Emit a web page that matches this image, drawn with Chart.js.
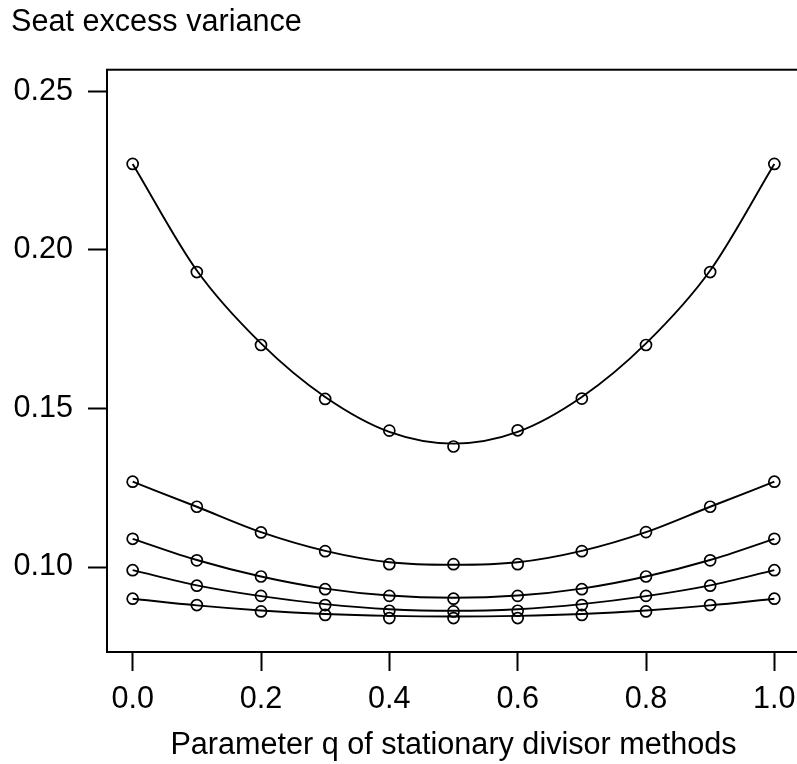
<!DOCTYPE html>
<html>
<head>
<meta charset="utf-8">
<script src="https://cdn.jsdelivr.net/npm/chart.js@4/dist/chart.umd.min.js"></script>
<style>
  html, body { margin: 0; padding: 0; background: #fff; overflow: hidden; }
  #wrap { width: 801px; height: 764px; position: relative; }
</style>
</head>
<body>
<div id="wrap"><canvas id="c" width="801" height="764"></canvas></div>
<script>
// ---- data ----
const qValues = [0.0, 0.1, 0.2, 0.3, 0.4, 0.5, 0.6, 0.7, 0.8, 0.9, 1.0];

// smooth (theoretical) curves
const curveA = [0.2271, 0.1935, 0.1705, 0.1536, 0.1426, 0.1389, 0.1426, 0.1536, 0.1705, 0.1935, 0.2271];
const curveB = [0.1269, 0.1190, 0.1110, 0.1051, 0.1015, 0.1007, 0.1015, 0.1051, 0.1110, 0.1190, 0.1269];
const curveC = [0.1089, 0.1022, 0.0970, 0.0932, 0.0910, 0.0903, 0.0910, 0.0932, 0.0970, 0.1022, 0.1089];
const curveD = [0.0990, 0.0942, 0.0908, 0.0883, 0.0867, 0.0862, 0.0867, 0.0883, 0.0908, 0.0942, 0.0990];
const curveE = [0.0900, 0.0879, 0.0863, 0.0852, 0.0846, 0.0844, 0.0846, 0.0852, 0.0863, 0.0879, 0.0900];

// observed points (circles)
const pointsA = [0.2271, 0.1930, 0.1700, 0.1530, 0.1430, 0.1380, 0.1431, 0.1531, 0.1700, 0.1930, 0.2271];
const pointsB = [0.1269, 0.1190, 0.1109, 0.1050, 0.1009, 0.1009, 0.1009, 0.1050, 0.1110, 0.1190, 0.1269];
const pointsC = [0.1089, 0.1021, 0.0970, 0.0930, 0.0909, 0.0900, 0.0909, 0.0930, 0.0970, 0.1021, 0.1089];
const pointsD = [0.0990, 0.0941, 0.0909, 0.0880, 0.0862, 0.0860, 0.0862, 0.0880, 0.0909, 0.0941, 0.0990];
const pointsE = [0.0900, 0.0880, 0.0860, 0.0849, 0.0839, 0.0839, 0.0839, 0.0849, 0.0860, 0.0880, 0.0900];

const xTicks = [0.0, 0.2, 0.4, 0.6, 0.8, 1.0];
const yTicks = [0.10, 0.15, 0.20, 0.25];

const yTitle = "Seat excess variance";
const xTitle = "Parameter q of stationary divisor methods";
// ---------------------------------------

const FONT = "'Liberation Sans', Arial, Helvetica, sans-serif";
const FS = 30.6;
const toXY = arr => qValues.map((x, i) => ({ x: x, y: arr[i] }));

const curves = [curveA, curveB, curveC, curveD, curveE];
const points = [pointsA, pointsB, pointsC, pointsD, pointsE];

const datasets = [];
curves.forEach(c => datasets.push({
  data: toXY(c),
  showLine: true,
  borderColor: '#000',
  borderWidth: 1.9,
  pointRadius: 0,
  pointHoverRadius: 0,
  cubicInterpolationMode: 'monotone',
  fill: false
}));
points.forEach(p => datasets.push({
  data: toXY(p),
  showLine: false,
  pointStyle: 'circle',
  pointRadius: 5.5,
  pointBorderWidth: 1.7,
  pointBorderColor: '#000',
  pointBackgroundColor: 'rgba(0,0,0,0)'
}));

const boxPlugin = {
  id: 'box',
  afterDraw(chart) {
    const a = chart.chartArea, ctx = chart.ctx;
    ctx.save();
    ctx.strokeStyle = '#000';
    ctx.lineWidth = 2;
    ctx.strokeRect(a.left, a.top, a.right - a.left, a.bottom - a.top);
    ctx.restore();
  }
};

new Chart(document.getElementById('c'), {
  type: 'scatter',
  data: { datasets },
  plugins: [boxPlugin],
  options: {
    responsive: false,
    animation: false,
    events: [],
    layout: { autoPadding: false, padding: { left: 11, right: 1, top: 0, bottom: 0 } },
    plugins: {
      legend: { display: false },
      tooltip: { enabled: false },
      title: {
        display: true,
        text: yTitle,
        align: 'start',
        color: '#000',
        font: { family: FONT, size: FS, weight: 'normal', lineHeight: 1.2 },
        padding: { top: 4, bottom: 29 }
      }
    },
    scales: {
      x: {
        type: 'linear',
        min: -0.04,
        max: 1.04,
        afterBuildTicks: s => { s.ticks = xTicks.map(v => ({ value: v })); },
        afterFit: s => { s.height = 112; s.paddingLeft = 0; s.paddingRight = 0; },
        border: { display: false },
        grid: { drawOnChartArea: false, drawTicks: true, tickLength: 19, tickWidth: 2, tickColor: '#000' },
        ticks: {
          color: '#000',
          padding: 0,
          maxRotation: 0,
          autoSkip: false,
          font: { family: FONT, size: FS, lineHeight: 1.863 },
          callback: v => Number(v).toFixed(1)
        },
        title: {
          display: true,
          text: xTitle,
          color: '#000',
          font: { family: FONT, size: FS, lineHeight: 1.2 },
          padding: { top: 0, bottom: 0 }
        }
      },
      y: {
        type: 'linear',
        min: 0.0732,
        max: 0.2568,
        afterBuildTicks: s => { s.ticks = yTicks.map(v => ({ value: v })); },
        afterFit: s => { s.width = 96; s.paddingTop = 0; s.paddingBottom = 0; },
        border: { display: false },
        grid: { drawOnChartArea: false, drawTicks: true, tickLength: 19, tickWidth: 2, tickColor: '#000' },
        ticks: {
          color: '#000',
          padding: 15,
          autoSkip: false,
          font: { family: FONT, size: FS, lineHeight: 1.2 },
          callback: v => Number(v).toFixed(2)
        }
      }
    }
  }
});
</script>
</body>
</html>
